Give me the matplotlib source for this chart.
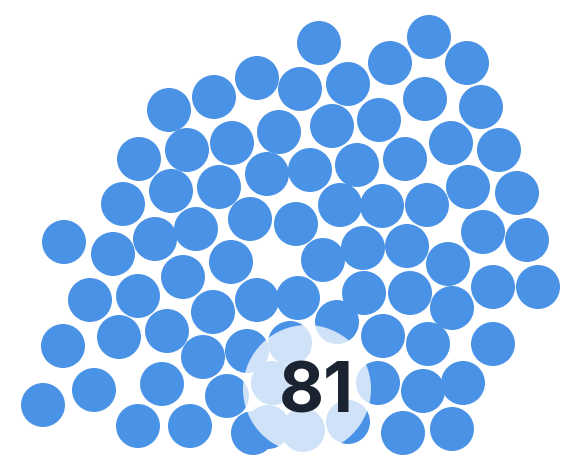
import matplotlib
matplotlib.use("Agg")
import matplotlib.pyplot as plt
from matplotlib.patches import Circle

# Bubble centres (pixel-space data, y downward)
xs = [319, 429, 390, 467, 257, 300, 348, 214, 425, 481,
      169, 379, 332, 279, 232, 451, 499, 187, 139, 310,
      357, 405, 267, 219, 171, 468, 517, 123, 340, 382,
      427, 250, 296, 196, 155, 64, 113, 483, 527, 363,
      407, 323, 448, 231, 183, 90, 138, 213, 257, 298,
      364, 410, 493, 538, 452, 63, 119, 167, 203, 247,
      337, 383, 428, 493, 94, 162, 227, 43, 138, 190,
      253, 378, 423, 463, 403, 452, 290, 273, 268, 303,
      348]
ys = [43, 37, 63, 63, 78, 89, 84, 97, 99, 107,
      110, 120, 126, 132, 143, 143, 150, 150, 159, 170,
      165, 159, 174, 187, 191, 187, 193, 204, 205, 206,
      205, 219, 224, 229, 239, 242, 254, 232, 240, 248,
      246, 260, 264, 262, 277, 300, 296, 312, 300, 298,
      293, 293, 287, 287, 308, 346, 337, 331, 357, 351,
      322, 336, 344, 344, 390, 384, 396, 405, 426, 426,
      433, 383, 391, 383, 433, 429, 343, 383, 427, 430,
      422]
count_label = "81"
highlight_center = (307, 389)

fig = plt.figure(figsize=(5.81, 4.62), dpi=100)
ax = fig.add_axes([0, 0, 1, 1])
ax.set_xlim(0, 581)
ax.set_ylim(462, 0)
ax.set_aspect("equal")
ax.axis("off")

for x, y in zip(xs, ys):
    ax.add_patch(Circle((x, y), 22, facecolor="#4a92e6", edgecolor="none"))

ax.add_patch(Circle(highlight_center, 64, facecolor="white", edgecolor="none", alpha=0.74, zorder=3))
ax.text(316, 394, count_label, ha="center", va="center", fontsize=50,
        fontweight="bold", family=["Inter", "DejaVu Sans"], color="#1b2230", zorder=4)

fig.savefig("out.png", dpi=100)
